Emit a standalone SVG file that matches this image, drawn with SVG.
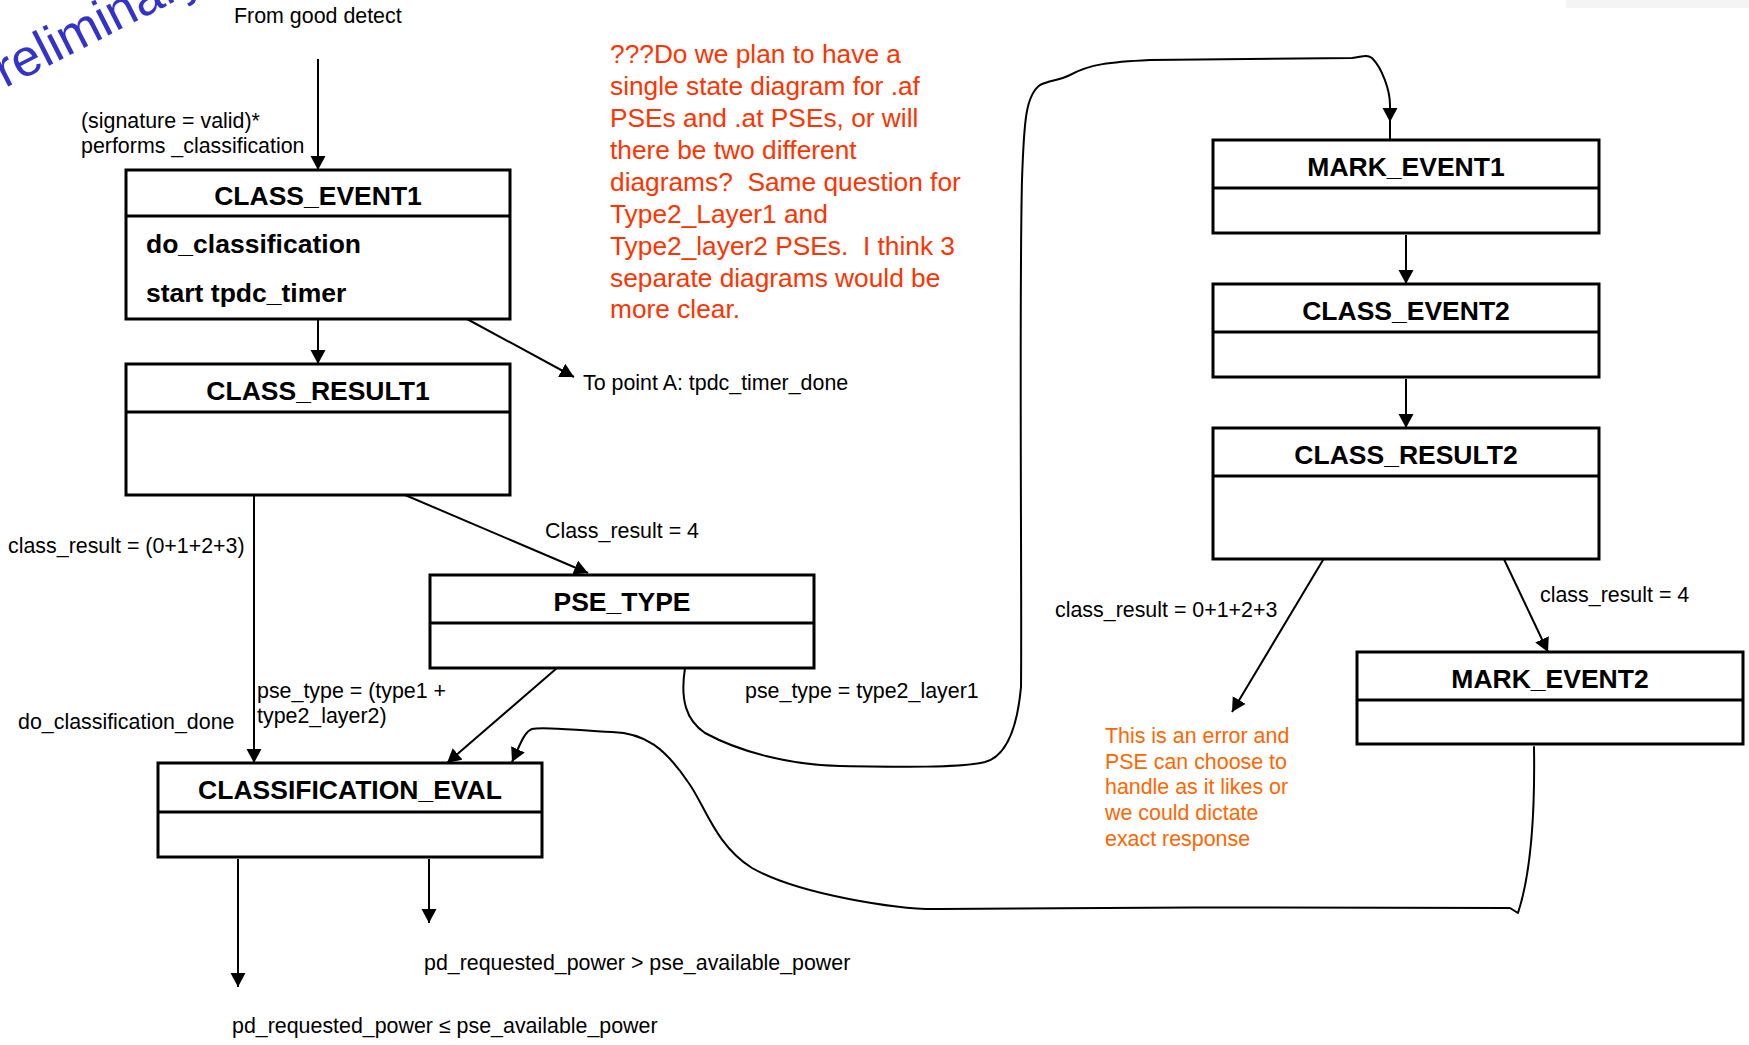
<svg xmlns="http://www.w3.org/2000/svg" width="1749" height="1045" viewBox="0 0 1749 1045">
<style>
  text { font-family: "Liberation Sans", Arial, Helvetica, sans-serif; }
  .box { fill: #fff; stroke: #000; stroke-width: 3; }
  .sep { stroke: #000; stroke-width: 3; }
  .title { font-size: 26.5px; font-weight: bold; fill: #000; text-anchor: middle; }
  .act { font-size: 26.5px; font-weight: bold; fill: #000; }
  .lbl { font-size: 21.4px; fill: #000; }
  .red { font-size: 26.3px; fill: #FF3300; }
  .orange { font-size: 21.4px; fill: #FF6600; }
  .conn { fill: none; stroke: #000; stroke-width: 2; }
  .curve { fill: none; stroke: #000; stroke-width: 2; stroke-linejoin: round; stroke-linecap: round; }
</style>
<defs>
  <marker id="arr" markerUnits="userSpaceOnUse" viewBox="0 0 16 16" markerWidth="16" markerHeight="16" refX="14" refY="7.5" orient="auto">
    <path d="M0,0 L14,7.5 L0,15 z" fill="#000"/>
  </marker>
</defs>
<rect width="1749" height="1045" fill="#fff"/>
<rect x="1566" y="0" width="183" height="8" fill="#f4f4f4"/>
<text transform="translate(-26,104) rotate(-27)" font-size="52" fill="#3333CC" style="font-family:'Liberation Sans',Arial,sans-serif">Preliminary</text>

<g id="connectors">
  <line class="conn" x1="318" y1="59" x2="318" y2="170" marker-end="url(#arr)"/>
  <line class="conn" x1="318" y1="319" x2="318" y2="364" marker-end="url(#arr)"/>
  <line class="conn" x1="467" y1="319" x2="574" y2="377" marker-end="url(#arr)"/>
  <line class="conn" x1="254" y1="493" x2="254" y2="763" marker-end="url(#arr)"/>
  <line class="conn" x1="398" y1="492" x2="588" y2="573" marker-end="url(#arr)"/>
  <line class="conn" x1="557" y1="668" x2="447" y2="763" marker-end="url(#arr)"/>
  <line class="conn" x1="238" y1="859" x2="238" y2="987" marker-end="url(#arr)"/>
  <line class="conn" x1="429" y1="859" x2="429" y2="923" marker-end="url(#arr)"/>
  <path class="curve" d="M685,668 C680,700 686,720 705,733 C740,752 790,765 840,766 C900,767 960,768 985,762 C1010,755 1018,720 1021,687 C1022,600 1019,300 1022,180 C1024,120 1026,95 1040,85 C1050,80 1058,81 1070,75 C1090,64 1110,62 1150,60 L1352,58 C1362,57 1366,54 1372,58 C1382,68 1390,90 1390,105 L1390,122" marker-end="url(#arr)"/>
  <line class="conn" x1="1390" y1="120" x2="1390" y2="140"/>
  <line class="conn" x1="1406" y1="235" x2="1406" y2="284" marker-end="url(#arr)"/>
  <line class="conn" x1="1406" y1="379" x2="1406" y2="428" marker-end="url(#arr)"/>
  <line class="conn" x1="1326" y1="555" x2="1232" y2="712" marker-end="url(#arr)"/>
  <line class="conn" x1="1502" y1="555" x2="1548" y2="652" marker-end="url(#arr)"/>
  <path class="curve" d="M1534,747 C1535,810 1532,870 1518,913 L1510,908 C1400,907 1100,907 940,909 C900,910 800,895 752,868 C715,845 705,805 688,782 C665,748 645,733 612,732 C580,731 545,726 532,729 C524,732 520,745 512,762" marker-end="url(#arr)"/>
</g>

<g id="CLASS_EVENT1">
  <rect class="box" x="126" y="170" width="384" height="149"/>
  <line class="sep" x1="126" y1="216" x2="510" y2="216"/>
  <text class="title" x="318" y="205">CLASS_EVENT1</text>
  <text class="act" x="146" y="253">do_classification</text>
  <text class="act" x="146" y="302">start tpdc_timer</text>
</g>
<g id="CLASS_RESULT1">
  <rect class="box" x="126" y="364" width="384" height="131"/>
  <line class="sep" x1="126" y1="412" x2="510" y2="412"/>
  <text class="title" x="318" y="400">CLASS_RESULT1</text>
</g>
<g id="PSE_TYPE">
  <rect class="box" x="430" y="575" width="384" height="93"/>
  <line class="sep" x1="430" y1="623" x2="814" y2="623"/>
  <text class="title" x="622" y="611">PSE_TYPE</text>
</g>
<g id="CLASSIFICATION_EVAL">
  <rect class="box" x="158" y="763" width="384" height="94"/>
  <line class="sep" x1="158" y1="812" x2="542" y2="812"/>
  <text class="title" x="350" y="799">CLASSIFICATION_EVAL</text>
</g>
<g id="MARK_EVENT1">
  <rect class="box" x="1213" y="140" width="386" height="93"/>
  <line class="sep" x1="1213" y1="188" x2="1599" y2="188"/>
  <text class="title" x="1406" y="176">MARK_EVENT1</text>
</g>
<g id="CLASS_EVENT2">
  <rect class="box" x="1213" y="284" width="386" height="93"/>
  <line class="sep" x1="1213" y1="332" x2="1599" y2="332"/>
  <text class="title" x="1406" y="320">CLASS_EVENT2</text>
</g>
<g id="CLASS_RESULT2">
  <rect class="box" x="1213" y="428" width="386" height="131"/>
  <line class="sep" x1="1213" y1="476" x2="1599" y2="476"/>
  <text class="title" x="1406" y="464">CLASS_RESULT2</text>
</g>
<g id="MARK_EVENT2">
  <rect class="box" x="1357" y="652" width="386" height="92"/>
  <line class="sep" x1="1357" y1="700" x2="1743" y2="700"/>
  <text class="title" x="1550" y="688">MARK_EVENT2</text>
</g>

<g id="labels">
  <text class="lbl" x="234" y="23">From good detect</text>
  <text class="lbl" x="81" y="128">(signature = valid)*</text>
  <text class="lbl" x="81" y="153">performs _classification</text>
  <text class="lbl" x="583" y="390">To point A: tpdc_timer_done</text>
  <text class="lbl" x="8" y="553">class_result = (0+1+2+3)</text>
  <text class="lbl" x="545" y="538">Class_result = 4</text>
  <text class="lbl" x="257" y="698">pse_type = (type1 +</text>
  <text class="lbl" x="257" y="723">type2_layer2)</text>
  <text class="lbl" x="18" y="729">do_classification_done</text>
  <text class="lbl" x="745" y="698">pse_type = type2_layer1</text>
  <text class="lbl" x="1055" y="617">class_result = 0+1+2+3</text>
  <text class="lbl" x="1540" y="602">class_result = 4</text>
  <text class="lbl" x="424" y="970">pd_requested_power &gt; pse_available_power</text>
  <text class="lbl" x="232" y="1033">pd_requested_power ≤ pse_available_power</text>
</g>

<g id="note-question">
  <text class="red" x="610" y="63" xml:space="preserve">???Do we plan to have a</text>
  <text class="red" x="610" y="95" xml:space="preserve">single state diagram for .af</text>
  <text class="red" x="610" y="127" xml:space="preserve">PSEs and .at PSEs, or will</text>
  <text class="red" x="610" y="159" xml:space="preserve">there be two different</text>
  <text class="red" x="610" y="191" xml:space="preserve">diagrams?  Same question for</text>
  <text class="red" x="610" y="223" xml:space="preserve">Type2_Layer1 and</text>
  <text class="red" x="610" y="255" xml:space="preserve">Type2_layer2 PSEs.  I think 3</text>
  <text class="red" x="610" y="287" xml:space="preserve">separate diagrams would be</text>
  <text class="red" x="610" y="318" xml:space="preserve">more clear.</text>
</g>

<g id="note-error">
  <text class="orange" x="1105" y="743">This is an error and</text>
  <text class="orange" x="1105" y="769">PSE can choose to</text>
  <text class="orange" x="1105" y="794">handle as it likes or</text>
  <text class="orange" x="1105" y="820">we could dictate</text>
  <text class="orange" x="1105" y="846">exact response</text>
</g>
</svg>
